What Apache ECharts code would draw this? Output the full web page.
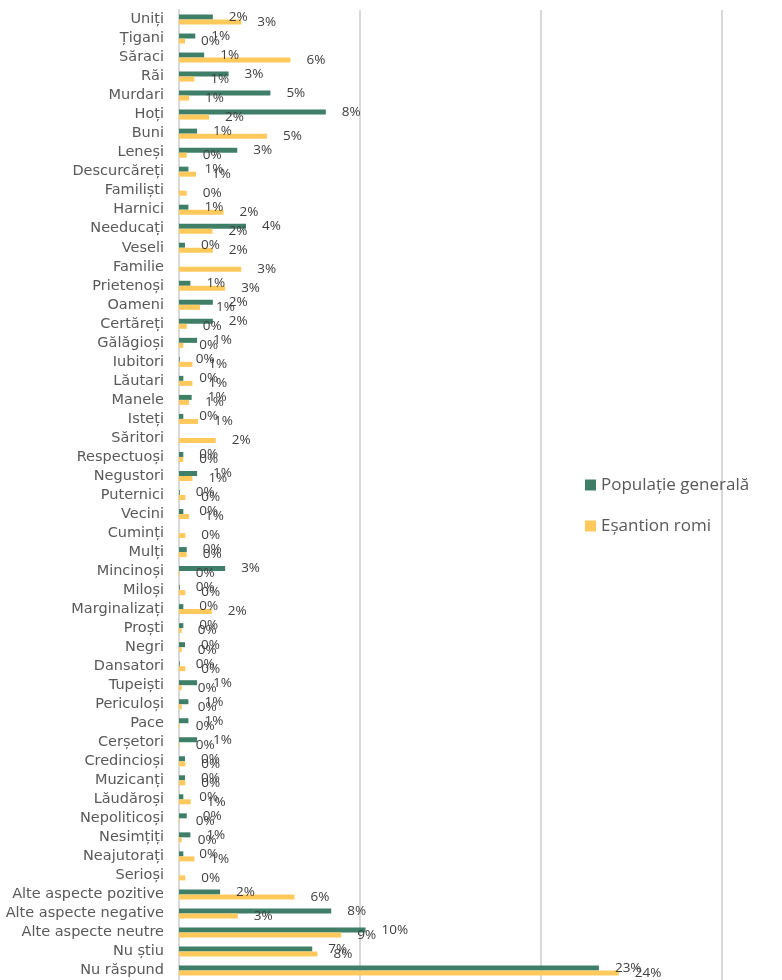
<!DOCTYPE html>
<html>
<head>
<meta charset="utf-8">
<script src="https://cdn.jsdelivr.net/npm/echarts@6/dist/echarts.min.js"></script>
<style>
html,body{margin:0;padding:0;background:#fff;}
#chart{width:782px;height:980px;}
</style>
</head>
<body>
<div id="chart"></div>
<script>
const categories = ["Uniți","Țigani","Săraci","Răi","Murdari","Hoți","Buni","Leneși","Descurcăreți","Familiști","Harnici","Needucați","Veseli","Familie","Prietenoși","Oameni","Certăreți","Gălăgioși","Iubitori","Lăutari","Manele","Isteți","Săritori","Respectuoși","Negustori","Puternici","Vecini","Cuminți","Mulți","Mincinoși","Miloși","Marginalizați","Proști","Negri","Dansatori","Tupeiști","Periculoși","Pace","Cerșetori","Credincioși","Muzicanți","Lăudăroși","Nepoliticoși","Nesimțiți","Neajutorați","Serioși","Alte aspecte pozitive","Alte aspecte negative","Alte aspecte neutre","Nu știu","Nu răspund"];

const populatieGenerala = [1.87,0.9,1.39,2.74,5.05,8.11,1.0,3.22,0.52,null,0.52,3.70,0.33,null,0.63,1.87,1.87,1.0,0.04,0.24,0.70,0.24,null,0.24,1.0,0.04,0.24,null,0.43,2.55,0.04,0.24,0.24,0.33,0.04,1.0,0.52,0.52,1.0,0.33,0.33,0.24,0.43,0.63,0.24,null,2.27,8.41,10.31,7.36,23.2];

const esantionRomi = [3.44,0.33,6.16,0.85,0.55,1.66,4.86,0.43,0.94,0.43,2.46,1.85,1.87,3.44,2.55,1.16,0.43,0.24,0.74,0.74,0.55,1.05,2.03,0.24,0.74,0.35,0.55,0.35,0.43,0.04,0.35,1.81,0.15,0.15,0.35,0.15,0.15,0.04,0.04,0.35,0.35,0.65,0.04,0.15,0.85,0.35,6.38,3.25,8.96,7.65,24.3];

const seriesNames = ["Populație generală","Eșantion romi"];
const xTicks = [0,10,20,30,40];

const chart = echarts.init(document.getElementById('chart'), null, {renderer:'canvas'});
const FONT = 'Open Sans';
const labelCfg = {
  show: true,
  position: 'right',
  distance: 16,
  color: '#404040',
  fontFamily: FONT,
  fontSize: 13.5,
  formatter: p => (p.value == null ? '' : Math.round(p.value) + '%')
};
chart.setOption({
  animation: false,
  backgroundColor: '#ffffff',
  legend: {
    orient: 'vertical',
    left: 585,
    top: 475,
    padding: 0,
    itemWidth: 11,
    itemHeight: 11,
    itemGap: 21,
    icon: 'rect',
    textStyle: {color:'#595959', fontFamily: FONT, fontSize: 17, lineHeight: 20},
    data: seriesNames
  },
  grid: {left: 179, top: 10, width: 724, height: 970, containLabel: false, outerBoundsMode: 'none'},
  xAxis: {
    type: 'value',
    min: xTicks[0],
    max: xTicks[xTicks.length-1],
    interval: 10,
    axisLabel: {show:false},
    axisLine: {show:false},
    axisTick: {show:false},
    splitLine: {show:true, lineStyle:{color:'#d9d9d9', width:2}}
  },
  yAxis: {
    type: 'category',
    inverse: true,
    data: categories,
    axisLine: {show:true, lineStyle:{color:'#d9d9d9', width:2}},
    axisTick: {show:false},
    axisLabel: {color:'#595959', fontFamily: 'DejaVu Sans', fontSize: 14.5, margin: 15, interval: 0}
  },
  series: [
    {
      name: seriesNames[0],
      type: 'bar',
      data: populatieGenerala,
      barWidth: 5,
      barGap: '0%',
      itemStyle: {color:'#3f7f68'},
      label: labelCfg
    },
    {
      name: seriesNames[1],
      type: 'bar',
      data: esantionRomi,
      barWidth: 5,
      barGap: '0%',
      itemStyle: {color:'#ffc95c'},
      label: labelCfg
    }
  ]
});
</script>
</body>
</html>
